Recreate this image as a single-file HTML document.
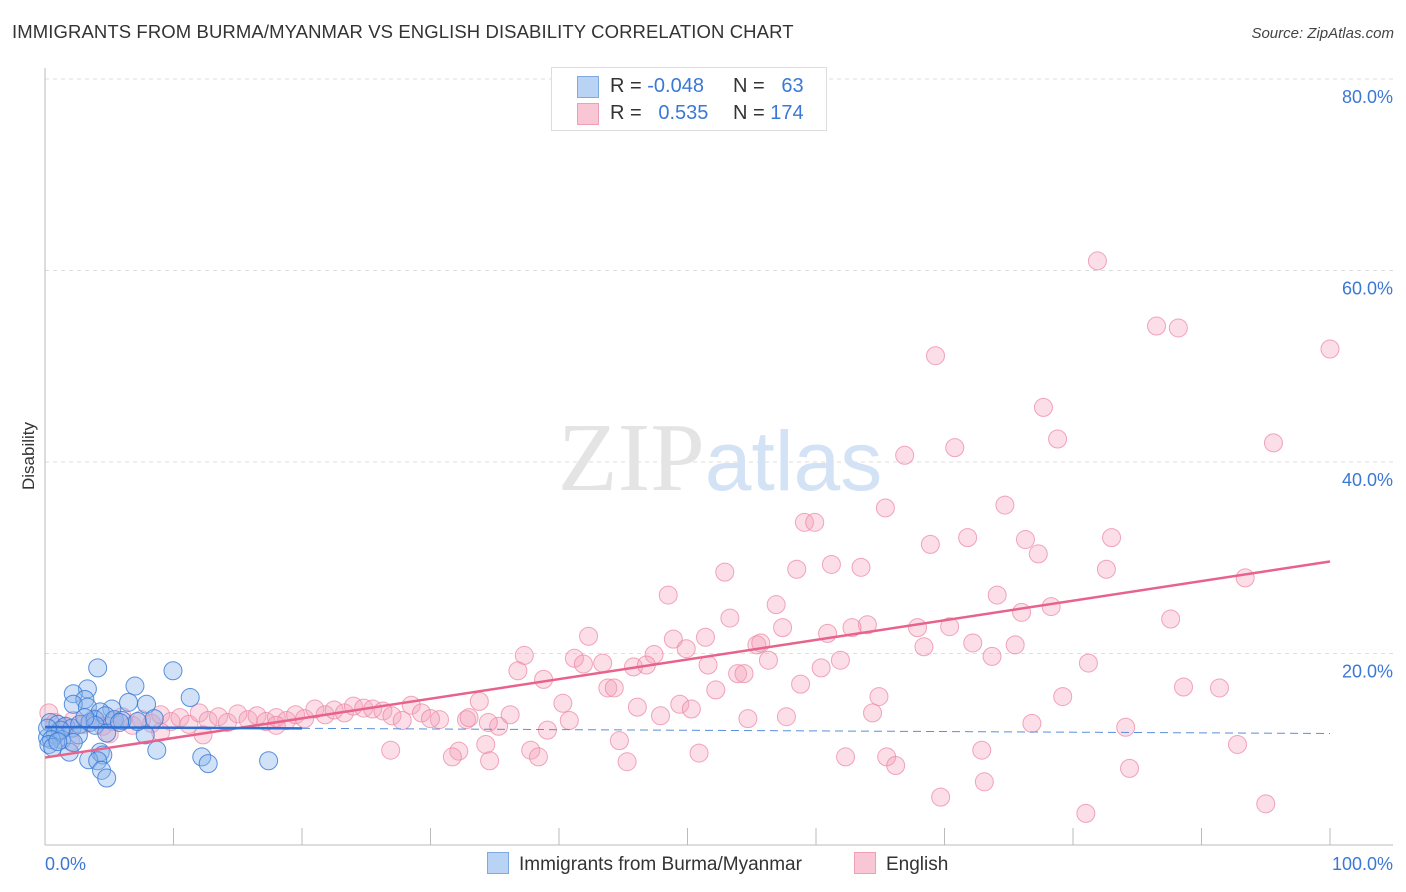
<!DOCTYPE html>
<html><head><meta charset="utf-8"><style>
body{margin:0;background:#fff;font-family:"Liberation Sans",sans-serif;}
#wrap{position:relative;width:1406px;height:892px;overflow:hidden;}
</style></head><body>
<div id="wrap">
<div style="position:absolute;left:12px;top:21px;font-size:18.5px;color:#333;letter-spacing:0.1px">IMMIGRANTS FROM BURMA/MYANMAR VS ENGLISH DISABILITY CORRELATION CHART</div>
<div style="position:absolute;right:12px;top:25px;font-size:15px;color:#444;font-style:italic">Source: ZipAtlas.com</div>
<svg id="svg" width="1406" height="892" style="position:absolute;left:0;top:0"></svg>
</div>
<script>
const xTickLabels=["0.0%","100.0%"];
const yTicks=[20,40,60,80];
const yTickLabels=["20.0%","40.0%","60.0%","80.0%"];
const blueX=[4.1,9.96,3.3,7.0,2.2,3.1,11.3,6.5,7.9,2.2,5.2,3.3,4.3,0.4,1.0,1.6,2.1,2.7,3.5,3.9,4.7,0.2,0.8,1.3,2.6,3.9,4.8,7.8,1.9,2.2,8.7,4.3,4.5,3.4,4.1,12.2,12.7,4.4,4.8,17.4,3.1,5.4,1.2,0.2,0.5,0.3,0.6,1.0,6.0,7.2,8.5,5.8];
const blueY=[18.5,18.2,16.3,16.6,15.8,15.2,15.4,14.9,14.7,14.7,14.2,14.4,13.9,12.8,12.6,12.4,12.2,12.6,12.8,13.1,13.5,11.2,11.5,11.0,11.5,12.5,11.7,11.5,9.7,10.7,9.9,9.7,9.4,8.9,8.8,9.2,8.5,7.8,7.0,8.8,13.3,13.1,12.0,12.2,11.0,10.5,10.2,10.8,13.0,12.9,13.2,12.8];
const pinkX=[81.9,86.5,88.2,100,69.3,77.7,78.8,95.6,70.8,66.9,65.4,74.7,59.1,59.9,71.8,68.9,76.3,83.0,77.3,61.2,63.5,52.9,58.5,82.6,93.4,48.5,74.1,56.9,76.0,78.3,53.3,87.6,57.4,64.0,62.8,67.9,70.4,60.9,42.3,48.9,51.4,55.4,55.7,49.9,72.2,68.4,75.5,37.3,47.4,41.2,73.7,43.4,41.9,56.3,61.9,45.8,46.8,51.6,81.2,36.8,60.4,53.9,54.4,38.8,58.8,43.8,44.3,52.2,88.6,91.4,64.9,79.2,33.8,40.3,46.1,49.4,50.3,64.4,47.9,57.7,54.7,76.8,84.1,32.8,30.7,36.2,40.8,35.3,39.1,44.7,34.3,32.2,37.8,50.9,26.9,31.7,34.6,38.4,45.3,62.3,65.5,66.2,72.9,92.8,84.4,73.1,69.7,81.0,95.0,
0.3,0.8,1.5,2.2,3,3.8,4.5,5.3,6,6.8,7.5,8.3,9,9.8,10.5,11.2,12,12.7,13.5,14.2,15,15.8,16.5,17.2,18,18.8,19.5,20.2,21,21.8,22.5,23.3,24,24.8,25.5,26.3,27,27.8,28.5,29.3,30,9,12.3,5,2,18,33,34.5];
const pinkY=[61.0,54.2,54.0,51.8,51.1,45.7,42.4,42.0,41.5,40.7,35.2,35.5,33.7,33.7,32.1,31.4,31.9,32.1,30.4,29.3,29.0,28.5,28.8,28.8,27.9,26.1,26.1,25.1,24.3,24.9,23.7,23.6,22.7,23.0,22.7,22.7,22.8,22.1,21.8,21.5,21.7,20.9,21.1,20.5,21.1,20.7,20.9,19.8,19.9,19.5,19.7,19.0,18.9,19.3,19.3,18.6,18.8,18.8,19.0,18.2,18.5,17.9,17.9,17.3,16.8,16.4,16.4,16.2,16.5,16.4,15.5,15.5,15.0,14.8,14.4,14.7,14.2,13.8,13.5,13.4,13.2,12.7,12.3,13.1,13.1,13.6,13.0,12.4,12.0,10.9,10.5,9.8,9.9,9.6,9.9,9.2,8.8,9.2,8.7,9.2,9.2,8.3,9.9,10.5,8.0,6.6,5.0,3.3,4.3,
13.8,12.8,12.3,13.0,12.6,13.2,12.4,12.9,13.4,12.5,13.1,12.7,13.6,12.9,13.3,12.6,13.8,13.0,13.4,12.8,13.7,13.1,13.5,12.9,13.3,13.0,13.6,13.2,14.2,13.6,14.1,13.8,14.5,14.3,14.2,14.0,13.5,13.0,14.6,13.8,13.2,11.8,11.5,11.6,10.8,12.5,13.3,12.8];
const X=v=>45+v*12.85, Y=v=>845-v*9.575;
const svg=document.getElementById('svg');const NS="http://www.w3.org/2000/svg";
function mk(t,a,p){const e=document.createElementNS(NS,t);for(const k in a)e.setAttribute(k,a[k]);(p||svg).appendChild(e);return e;}
yTicks.forEach((t,i)=>{
 const g=mk('line',{x1:45,x2:1393,y1:Y(t),y2:Y(t),stroke:'#ddd','stroke-dasharray':'4,4'});
 
 const tx=mk('text',{x:1393,y:Y(t)+24,'text-anchor':'end',fill:'#3b78d6','font-size':18,'font-family':'Liberation Sans'});
 tx.textContent=yTickLabels[i];
});
mk('line',{x1:45,x2:45,y1:68,y2:845,stroke:'#bbb'});
mk('line',{x1:45,x2:1393,y1:845,y2:845,stroke:'#bbb'});
for(let i=1;i<=10;i++){mk('line',{x1:X(i*10),x2:X(i*10),y1:828,y2:845,stroke:'#bbb'});}
const xl=mk('text',{x:45,y:870,fill:'#3b78d6','font-size':18,'font-family':'Liberation Sans'});xl.textContent=xTickLabels[0];

const xr=mk('text',{x:1393,y:870,'text-anchor':'end',fill:'#3b78d6','font-size':18,'font-family':'Liberation Sans'});xr.textContent=xTickLabels[1];

const yt=mk('text',{x:34,y:456,transform:'rotate(-90 34 456)','text-anchor':'middle',fill:'#333','font-size':17,'font-family':'Liberation Sans'});yt.textContent='Disability';

const wm=mk('text',{x:720,y:490,'text-anchor':'middle','font-size':98,'font-family':'Liberation Serif',fill:'#e4e4e4'});
wm.innerHTML='ZIP<tspan font-family="Liberation Sans" fill="#d3e2f5" font-size="84">atlas</tspan>';

function reg(xs,ys){const n=xs.length;let mx=0,my=0;for(let i=0;i<n;i++){mx+=xs[i];my+=ys[i];}mx/=n;my/=n;let sxy=0,sxx=0;for(let i=0;i<n;i++){sxy+=(xs[i]-mx)*(ys[i]-my);sxx+=(xs[i]-mx)**2;}const b=sxy/sxx;return [my-b*mx,b];}
pinkX.forEach((x,i)=>{const c=mk('circle',{cx:X(x),cy:Y(pinkY[i]),r:9,fill:'rgba(244,160,185,0.35)',stroke:'rgba(236,130,160,0.7)','stroke-width':1});
});
blueX.forEach((x,i)=>{const c=mk('circle',{cx:X(x),cy:Y(blueY[i]),r:9,fill:'rgba(140,180,235,0.4)',stroke:'rgba(50,120,215,0.8)','stroke-width':1});
});
const [pa,pb]=reg(pinkX,pinkY);
const pl=mk('line',{x1:X(0),y1:Y(pa),x2:X(100),y2:Y(pa+pb*100),stroke:'#e8628c','stroke-width':2.5});

const [ba,bb]=reg(blueX,blueY);
const bl=mk('line',{x1:X(0),y1:Y(ba),x2:X(20),y2:Y(ba+bb*20),stroke:'#2f6fd0','stroke-width':2.5});

const bd=mk('line',{x1:X(20),y1:Y(ba+bb*20),x2:X(100),y2:Y(ba+bb*100),stroke:'#5a8fdc','stroke-width':1,'stroke-dasharray':'8,5'});

</script>
<div style="position:absolute;left:551px;top:67px;width:274px;height:62px;border:1px solid #ddd;background:#fff;font-size:20px;color:#333">
 <div style="position:absolute;left:25px;top:8px;width:20px;height:20px;background:#b9d3f5;border:1px solid #7fa9e3"></div>
 <div style="position:absolute;left:58px;top:7px">R = <span style="color:#3b78d6">-0.048</span></div>
 <div style="position:absolute;left:181px;top:7px">N = <span style="color:#3b78d6">&nbsp;&nbsp;63</span></div>
 <div style="position:absolute;left:25px;top:35px;width:20px;height:20px;background:#f9c6d5;border:1px solid #eea0b8"></div>
 <div style="position:absolute;left:58px;top:34px">R = <span style="color:#3b78d6">&nbsp;&nbsp;0.535</span></div>
 <div style="position:absolute;left:181px;top:34px">N = <span style="color:#3b78d6">174</span></div>
</div>
<div style="position:absolute;left:487px;top:852px;font-size:19px;color:#333">
 <span style="position:absolute;left:0;top:0;white-space:nowrap"><span style="display:inline-block;width:20px;height:20px;background:#b9d3f5;border:1px solid #7fa9e3;vertical-align:-4px;margin-right:10px"></span>Immigrants from Burma/Myanmar</span>
 <span style="position:absolute;left:367px;top:0;white-space:nowrap"><span style="display:inline-block;width:20px;height:20px;background:#f9c6d5;border:1px solid #eea0b8;vertical-align:-4px;margin-right:10px"></span>English</span>
</div>
</body></html>
